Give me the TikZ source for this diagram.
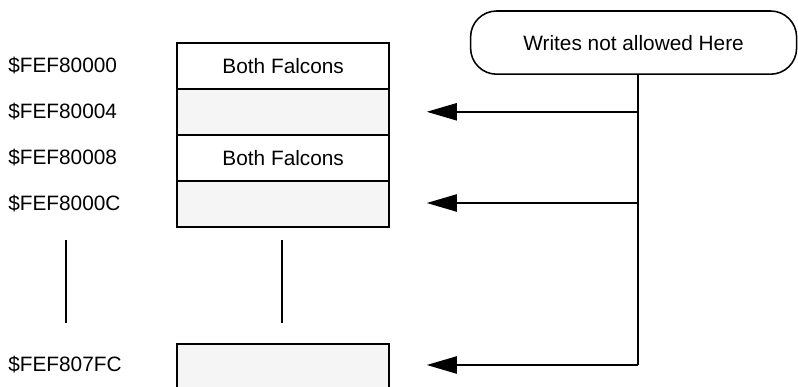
\documentclass[tikz,border=0pt]{standalone}
\usepackage{fontspec}
\setmainfont{Liberation Sans}
\usetikzlibrary{arrows.meta}
\definecolor{cellgrey}{RGB}{245, 245, 245}

\begin{document}
\begin{tikzpicture}[
    cell/.style   = {draw=black, line width=1.1pt, minimum width=5.30cm, minimum height=1.15cm, inner sep=0pt},
    addr/.style   = {anchor=west, inner sep=0pt},
    pill/.style   = {draw=black, line width=1.1pt, rounded corners=0.65cm, minimum width=8.15cm, minimum height=1.58cm},
    ptr/.style    = {line width=1.1pt, -{Triangle[length=0.75cm, width=0.43cm]}, shorten >=0.92cm},
    gap/.style    = {line width=0.8pt},
    font=\fontsize{14.8}{17}\selectfont]
            \useasboundingbox (0.00, 0.00) rectangle (19.95, 9.675);
            \node[cell]                  (r1) at ( 7.08, 8.03) {Both Falcons};
            \node[cell, fill=cellgrey]   (r2) at ( 7.08, 6.88) {};
            \node[cell]                  (r3) at ( 7.08, 5.73) {Both Falcons};
            \node[cell, fill=cellgrey]   (r4) at ( 7.08, 4.58) {};
            \node[cell, fill=cellgrey]   (rn) at ( 7.08, 0.50) {};
            \node[addr]                  (a1) at ( 0.20, 8.03) {\$FEF80000};
            \node[addr]                  (a2) at ( 0.20, 6.88) {\$FEF80004};
            \node[addr]                  (a3) at ( 0.20, 5.73) {\$FEF80008};
            \node[addr]                  (a4) at ( 0.20, 4.58) {\$FEF8000C};
            \node[addr]                  (an) at ( 0.20, 0.55) {\$FEF807FC};
            % gaps in the map
            \draw[gap] ( 1.65, 3.68) -- ( 1.65, 1.60);
            \draw[gap] ( 7.05, 3.68) -- ( 7.05, 1.60);
            % the note and its pointers
            \node[pill]                  (note) at (15.84, 8.61) {Writes not allowed Here};
            \coordinate (t2) at (15.95, 6.88);
            \coordinate (t4) at (15.95, 4.60);
            \coordinate (tn) at (15.95, 0.55);
            \draw[line width=1.1pt] (note.south -| tn) -- (tn);
            \draw[ptr] (t2) -- (r2.east |- t2);
            \draw[ptr] (t4) -- (r4.east |- t4);
            \draw[ptr] (tn) -- (rn.east |- tn);
\end{tikzpicture}
\end{document}
